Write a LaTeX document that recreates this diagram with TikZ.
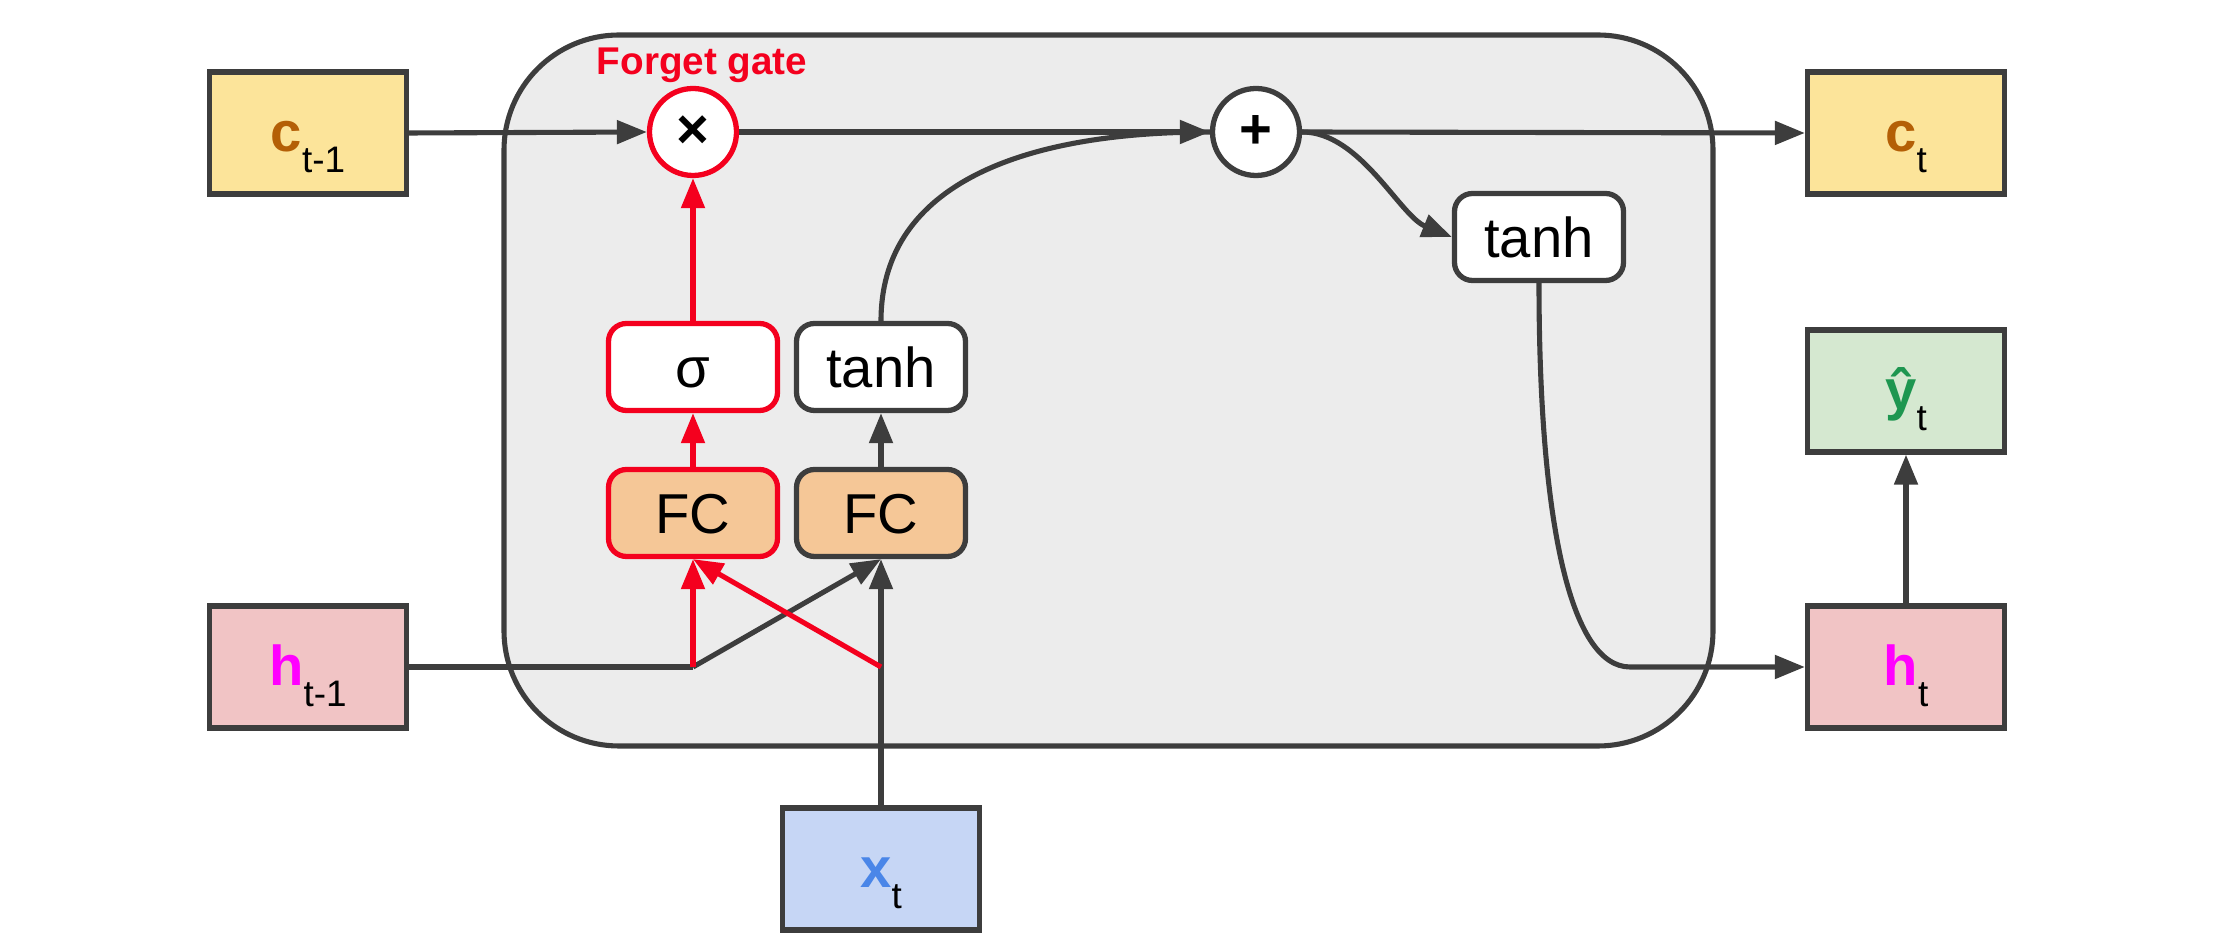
\documentclass[tikz,border=0pt]{standalone}
\usepackage{fontspec}
\setmainfont{Liberation Sans}
\usetikzlibrary{arrows.meta}
\definecolor{linegray}{HTML}{3D3D3D}
\definecolor{cellgray}{HTML}{ECECEC}
\definecolor{gatered}{RGB}{244,0,30}
\definecolor{cyellow}{HTML}{FCE49A}
\definecolor{hpink}{HTML}{F1C4C5}
\definecolor{xblue}{HTML}{C6D6F5}
\definecolor{ygreen}{HTML}{D5E8D0}
\definecolor{fcorange}{HTML}{F5C797}
\definecolor{cbrown}{HTML}{B45F06}
\definecolor{hmag}{HTML}{FF00FF}
\definecolor{xcol}{HTML}{4A86E8}
\definecolor{ycol}{HTML}{1E9650}
% variable label: bold letter + lowered subscript
\newcommand{\varlbl}[3]{{\fontsize{16}{18}\selectfont\bfseries\color{#1}#2}\raisebox{-0.21cm}{\fontsize{10.5}{12}\selectfont #3}}
\begin{document}
\begin{tikzpicture}[
    iobox/.style={draw=linegray, line width=1.5pt, minimum width=1.97cm, minimum height=1.22cm,
      inner sep=0pt, text height=0.6cm, text depth=0.22cm},
    opbox/.style={draw=linegray, fill=white, rounded corners=0.18cm, line width=1.5pt,
      minimum width=1.69cm, minimum height=0.87cm, inner sep=0pt, text height=0.42cm,
      text depth=0cm, font=\fontsize{16}{18}\selectfont},
    opcircle/.style={circle, draw=linegray, fill=white, line width=1.5pt, minimum size=0.87cm,
      inner sep=0pt, font=\fontsize{16}{18}\selectfont\bfseries},
    arr/.style={draw=linegray, line width=1.45pt, -{Triangle[length=0.3cm, width=0.23cm]}},
    redarr/.style={arr, draw=gatered}]
  \useasboundingbox (0,0) rectangle (22.22,-9.48);
  % LSTM cell
  \draw[draw=linegray, fill=cellgray, line width=1.45pt, rounded corners=1.15cm]
    (5.04,-0.35) rectangle (17.13,-7.46);
  % Inputs and outputs
  \node[iobox, fill=cyellow] (cprev) at (3.08,-1.33) {\varlbl{cbrown}{c}{t-1}};
  \node[iobox, fill=hpink]   (hprev) at (3.08,-6.67) {\varlbl{hmag}{h}{t-1}};
  \node[iobox, fill=xblue]   (xt)    at (8.81,-8.69) {\varlbl{xcol}{x}{t}};
  \node[iobox, fill=cyellow] (ct)    at (19.06,-1.33) {\varlbl{cbrown}{c}{t}};
  \node[iobox, fill=ygreen]  (yhat)  at (19.06,-3.91) {\varlbl{ycol}{\^y}{t}};
  \node[iobox, fill=hpink]   (ht)    at (19.06,-6.67) {\varlbl{hmag}{h}{t}};
  % Operations inside the cell
  \node[opcircle, draw=gatered] (mul)  at (6.93,-1.32) {×};
  \node[opcircle]               (plus) at (12.56,-1.32) {+};
  \node[font=\fontsize{11}{13}\selectfont\bfseries, text=gatered, anchor=base] (fgate)
    at (7.02,-0.75) {Forget gate};
  \node[opbox, draw=gatered]                (sig)   at (6.93,-3.67) {σ};
  \node[opbox]                              (tanhA) at (8.81,-3.67) {tanh};
  \node[opbox, fill=fcorange, draw=gatered] (fcA)   at (6.93,-5.13) {FC};
  \node[opbox, fill=fcorange]               (fcB)   at (8.81,-5.13) {FC};
  \node[opbox]                              (tanhB) at (15.39,-2.37) {tanh};
  % Junctions on the h and x lines
  \coordinate (hj) at (fcA |- hprev);
  \coordinate (xj) at (fcB |- hprev);
  \coordinate (hbend) at (16.3,-6.67);
  % Cell state path
  \draw[arr] (cprev.east) -- (mul.west);
  \draw[arr] (mul.east) -- (plus.west);
  \draw[arr] (plus.east) -- (ct.west);
  \draw[draw=linegray, line width=1.45pt] (tanhA.north) .. controls +(0,1.3) and +(-2.0,0) .. (plus.west);
  \draw[arr] (plus.east) .. controls +(0.58,0) and +(-0.52,0.21) .. (tanhB.west);
  \draw[arr] (tanhB.south) .. controls +(0,-2.37) and +(-0.6,0) .. (hbend) -- (ht.west);
  \draw[arr] (ht.north) -- (yhat.south);
  % Inputs into the FC layers
  \draw[draw=linegray, line width=1.45pt] (hprev.east) -- (hj);
  \draw[arr] (hj) -- (fcB.south);
  \draw[arr] (xt.north) -- (fcB.south);
  \draw[arr] (fcB.north) -- (tanhA.south);
  % Forget gate (red)
  \draw[redarr] (hj) -- (fcA.south);
  \draw[redarr] (xj) -- (fcA.south);
  \draw[redarr] (fcA.north) -- (sig.south);
  \draw[redarr] (sig.north) -- (mul.south);
\end{tikzpicture}
\end{document}
